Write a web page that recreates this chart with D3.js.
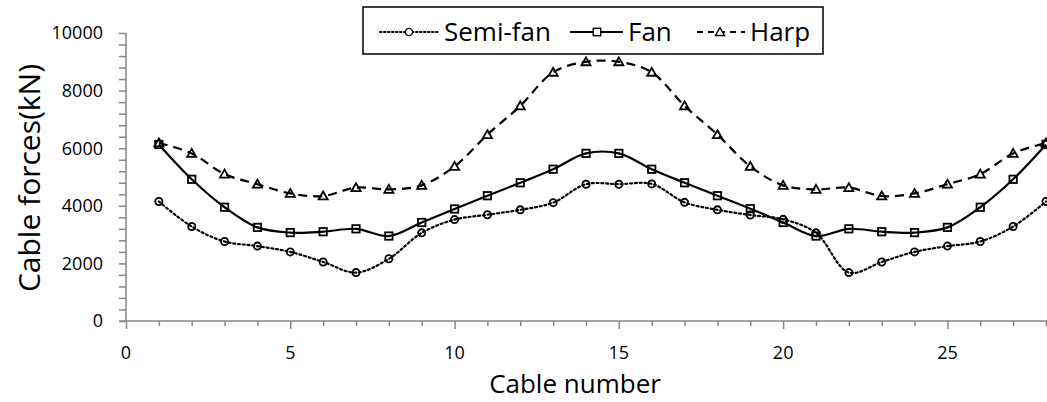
<!DOCTYPE html>
<html><head><meta charset="utf-8">
<script src="https://cdn.jsdelivr.net/npm/d3@7"></script>
<style>body{margin:0;background:#fff}svg{display:block}text{font-family:"Open Sans",sans-serif;fill:#000}</style>
</head><body><svg id="c" width="1047" height="402"></svg>
<script>
const cables = d3.range(1, 29);
const semiFan = [4150,3280,2760,2600,2400,2050,1680,2160,3060,3520,3690,3860,4110,4750,4750,4760,4120,3860,3680,3530,3060,1680,2050,2400,2600,2760,3280,4150];
const fan = [6130,4920,3950,3250,3070,3100,3200,2950,3420,3890,4350,4800,5270,5820,5820,5270,4800,4350,3900,3420,2950,3200,3100,3070,3250,3950,4920,6130];
const harp = [6180,5820,5100,4750,4430,4340,4630,4570,4710,5370,6470,7470,8635,9000,9000,8635,7470,6470,5370,4710,4570,4630,4340,4430,4750,5100,5820,6180];
const yTicks = [0,2000,4000,6000,8000,10000];
const xTicks = [0,5,10,15,20,25];
const seriesNames = ["Semi-fan","Fan","Harp"];

const svg = d3.select("#c");
const x = d3.scaleLinear().domain([0,28]).range([126,1046]);
const y = d3.scaleLinear().domain([0,10000]).range([321,33]);
const axisColor = "#868686";

// y axis
const gy = svg.append("g").attr("transform","translate(126,0)");
gy.call(d3.axisLeft(y).tickValues(d3.range(0,10001,400)).tickSize(7).tickFormat(""));
gy.selectAll("path,line").attr("stroke",axisColor).attr("stroke-width",1.5);
gy.select("path").attr("d","M0,"+y(0)+"V"+y(10000));
gy.selectAll("text.lbl").data(yTicks).enter().append("text").attr("class","lbl")
  .attr("x",-23).attr("y",d=>y(d)).attr("dy","0.35em").attr("text-anchor","end")
  .style("font-size","18px").text(d=>d);

// x axis
const gx = svg.append("g").attr("transform","translate(0,321)");
gx.call(d3.axisBottom(x).tickValues(d3.range(0,29,1)).tickSize(5).tickFormat(""));
gx.selectAll("path,line").attr("stroke",axisColor).attr("stroke-width",1.5);
gx.select("path").attr("d","M"+(126-7)+",0H"+1047);
gx.selectAll(".tick line").attr("y2",d=>d%5===0?8:5);
gx.selectAll("text.lbl").data(xTicks).enter().append("text").attr("class","lbl")
  .attr("x",d=>x(d)).attr("y",38).attr("text-anchor","middle")
  .style("font-size","18px").text(d=>d);

// axis titles
svg.append("text").attr("x",575).attr("y",393).attr("text-anchor","middle")
  .style("font-size","26px").text("Cable number");
svg.append("text").attr("transform","translate(40,178) rotate(-90)").attr("text-anchor","middle")
  .style("font-size","30px").text("Cable forces(kN)");

const styles = [
  {data:semiFan, dash:"2,2.8", cap:"round", marker:"circle"},
  {data:fan, dash:null, cap:"butt", marker:"square"},
  {data:harp, dash:"9,6", cap:"butt", marker:"triangle"}
];
const line = d3.line().x((d,i)=>x(cables[i])).y(d=>y(d)).curve(d3.curveCatmullRom.alpha(0.5));

function drawMarker(g, type, cx, cy){
  if(type==="circle") g.append("circle").attr("cx",cx).attr("cy",cy).attr("r",3.6);
  else if(type==="square") g.append("rect").attr("x",cx-3.7).attr("y",cy-3.7).attr("width",7.4).attr("height",7.4);
  else g.append("path").attr("d",d3.symbol(d3.symbolTriangle,36)()).attr("transform",`translate(${cx},${cy+0.8})`);
}

styles.forEach(s=>{
  svg.append("path").datum(s.data).attr("d",line).attr("fill","none").attr("stroke","#000")
    .attr("stroke-width",2.2).attr("stroke-dasharray",s.dash).attr("stroke-linecap",s.cap);
  const mg = svg.append("g").attr("fill","none").attr("stroke","#000").attr("stroke-width",1.8);
  s.data.forEach((v,i)=>drawMarker(mg,s.marker,x(cables[i]),y(v)));
});

// legend
const lg = svg.append("g");
lg.append("rect").attr("x",363).attr("y",7).attr("width",460).attr("height",47)
  .attr("fill","#fff").attr("stroke","#000").attr("stroke-width",1.5);
const legItems = [
  {x0:380,x1:440,mx:409,tx:444},
  {x0:570,x1:623,mx:597,tx:628},
  {x0:697,x1:745,mx:720,tx:750}
];
legItems.forEach((it,k)=>{
  const s = styles[k];
  lg.append("line").attr("x1",it.x0).attr("x2",it.x1).attr("y1",32).attr("y2",32)
    .attr("stroke","#000").attr("stroke-width",k===2?2.2:2).attr("stroke-dasharray",k===0?"1.5,2.5":(k===2?"6,5":null))
    .attr("stroke-linecap",s.cap);
  const mg = lg.append("g").attr("fill","#fff").attr("stroke","#000").attr("stroke-width",1.4);
  drawMarker(mg,s.marker,it.mx,32);
  lg.append("text").attr("x",it.tx).attr("y",32).attr("dy","0.36em").style("font-size","26px").text(seriesNames[k]);
});
</script></body></html>
